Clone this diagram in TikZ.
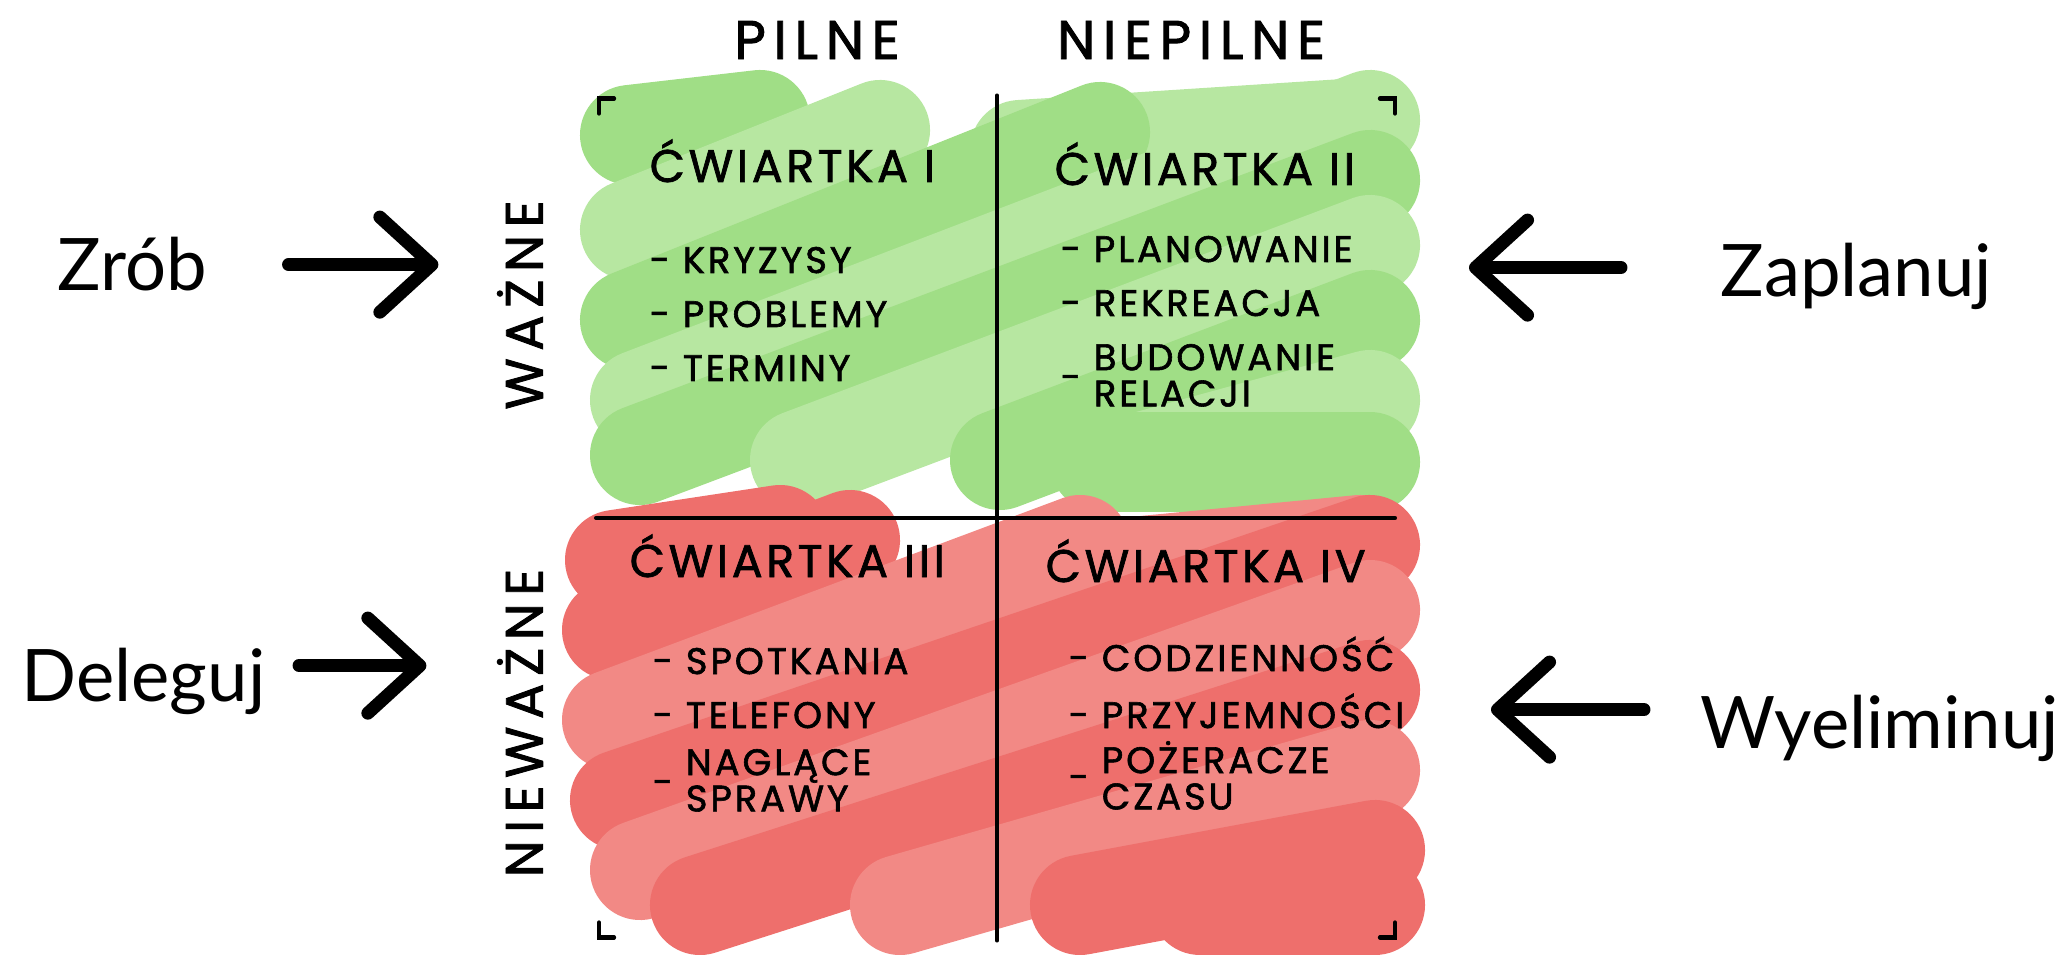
\documentclass[tikz,border=0pt]{standalone}
\usepackage[usenames,dvipsnames]{xcolor}
\usepackage{fontspec}
\usepackage{tikz}
\usetikzlibrary{arrows.meta}

\newfontfamily\handfont[LetterSpace=8, FakeBold=1.6]{Poppins}
\newfontfamily\headfont[LetterSpace=14, FakeBold=1.6]{Poppins}
\newfontfamily\bigfont{Lato}

\definecolor{grnA}{HTML}{A0DE86}
\definecolor{grnB}{HTML}{B7E7A1}
\definecolor{redA}{HTML}{EE6F6C}
\definecolor{redB}{HTML}{F28985}

\begin{document}
\begin{tikzpicture}[x=0.01cm, y=-0.01cm]
				\useasboundingbox (0,0) rectangle (2064,955);
				% marker scribbles
				\begin{scope}[line width=1cm, line cap=round]
					\draw[grnA] (630,135) -- (760,120);
					\draw[grnB] (1020,150) -- (1360,128);
					\draw[grnB] (630,230) -- (880,130);
					\draw[grnA] (630,320) -- (1100,132);
					\draw[grnB] (640,400) -- (1370,120);
					\draw[grnA] (640,455) -- (1370,180);
					\draw[grnB] (800,460) -- (1370,245);
					\draw[grnA] (1000,460) -- (1370,320);
					\draw[grnB] (1150,460) -- (1370,400);
					\draw[grnA] (1100,462) -- (1370,462);
					\draw[redA] (615,560) -- (780,535);
					\draw[redB] (1050,575) -- (1360,545);
					\draw[redA] (612,630) -- (850,540);
					\draw[redB] (612,720) -- (1080,545);
					\draw[redA] (620,800) -- (1370,545);
					\draw[redB] (640,870) -- (1370,610);
					\draw[redA] (700,905) -- (1370,690);
					\draw[redB] (900,905) -- (1370,770);
					\draw[redA] (1080,905) -- (1375,850);
					\draw[redA] (1200,905) -- (1375,905);
				\end{scope}
				% matrix frame
				\node (M) [minimum width=7.94cm, minimum height=8.37cm, inner sep=0] at (997,518) {};
				\begin{scope}[line width=1.2pt, line cap=round]
					\draw ([yshift=0.03cm]M.north) -- ([yshift=-0.03cm]M.south);
					\draw ([xshift=-0.03cm]M.west) -- (M.east);
					\draw (M.north west) ++(0,15) -- (M.north west) -- ++(15,0);
					\draw (M.north east) ++(0,15) -- (M.north east) -- ++(-15,0);
					\draw (M.south west) ++(0,-15) -- (M.south west) -- ++(15,0);
					\draw (M.south east) ++(0,-15) -- (M.south east) -- ++(-15,0);
				\end{scope}
				\begin{scope}[every node/.style = {anchor=base west, inner sep=0},
					title/.style = {font=\handfont\fontsize{13}{15}\selectfont},
					item/.style = {font=\handfont\fontsize{10.5}{9.7}\selectfont},
					head/.style = {anchor=center, font=\headfont\fontsize{15.5}{17}\selectfont},
					action/.style = {font=\bigfont\fontsize{20.6}{24}\selectfont,
						text height=15pt, text depth=0pt}]
					\node[head] (PIL) at (817,40) {PILNE};
					\node[head] (NPIL) at (1191,40) {NIEPILNE};
					\node[head, font=\headfont\fontsize{15}{17}\selectfont, rotate=90] (WAZ) at (520,305) {WAŻNE};
					\node[head, font=\headfont\fontsize{15}{17}\selectfont, rotate=90] (NWAZ) at (520,723) {NIEWAŻNE};
					\node[title] (Q1) at (649,182) {ĆWIARTKA I};
					\node[item] (Q1a) at (649,273) {- KRYZYSY};
					\node[item] (Q1b) at (649,327) {- PROBLEMY};
					\node[item] (Q1c) at (649,381) {- TERMINY};
					\node[title] (Q2) at (1054,185) {ĆWIARTKA II};
					\node[item] (Q2a) at (1060,262) {- PLANOWANIE};
					\node[item] (Q2b) at (1060,316) {- REKREACJA};
					\node[item] (Q2c) at (1060,390) {- \begin{tabular}{@{}l@{}}BUDOWANIE\\RELACJI\end{tabular}};
					\node[title] (Q3) at (629,577) {ĆWIARTKA III};
					\node[item] (Q3a) at (652,674) {- SPOTKANIA};
					\node[item] (Q3b) at (652,728) {- TELEFONY};
					\node[item] (Q3c) at (652,795) {- \begin{tabular}{@{}l@{}}NAGLĄCE\\SPRAWY\end{tabular}};
					\node[title] (Q4) at (1045,582) {ĆWIARTKA IV};
					\node[item] (Q4a) at (1068,671) {- CODZIENNOŚĆ};
					\node[item] (Q4b) at (1068,728) {- PRZYJEMNOŚCI};
					\node[item] (Q4c) at (1068,790) {- \begin{tabular}{@{}l@{}}POŻERACZE\\CZASU\end{tabular}};
					\node[action] (ZROB) at (57,291) {Zrób};
					\node[action] (DEL) at (21,701) {Deleguj};
					\node[action] (ZAP) at (1720,297) {Zaplanuj};
					\node[action] (WYE) at (1700,748) {Wyeliminuj};
				\end{scope}
				\begin{scope}[>={Straight Barb[length=0.52cm, width=0.95cm, round]},
						every edge/.style={draw=black, line width=0.13cm, line cap=round}]
					\path [->] (ZROB.east) edge[shorten <=0.81cm, shorten >=0.58cm] (ZROB.east -| WAZ.north);
					\path [->] ([yshift=0.09cm]DEL.east) edge[shorten <=0.33cm, shorten >=0.7cm] ([yshift=0.09cm]DEL.east -| NWAZ.north);
					\path [->] ([yshift=0.03cm]ZAP.west) edge[shorten <=0.99cm, shorten >=0.74cm] ([yshift=0.03cm]ZAP.west -| M.east);
					\path [->] ([yshift=0.12cm]WYE.west) edge[shorten <=0.56cm, shorten >=0.96cm] ([yshift=0.12cm]WYE.west -| M.east);
				\end{scope}
\end{tikzpicture}
\end{document}
